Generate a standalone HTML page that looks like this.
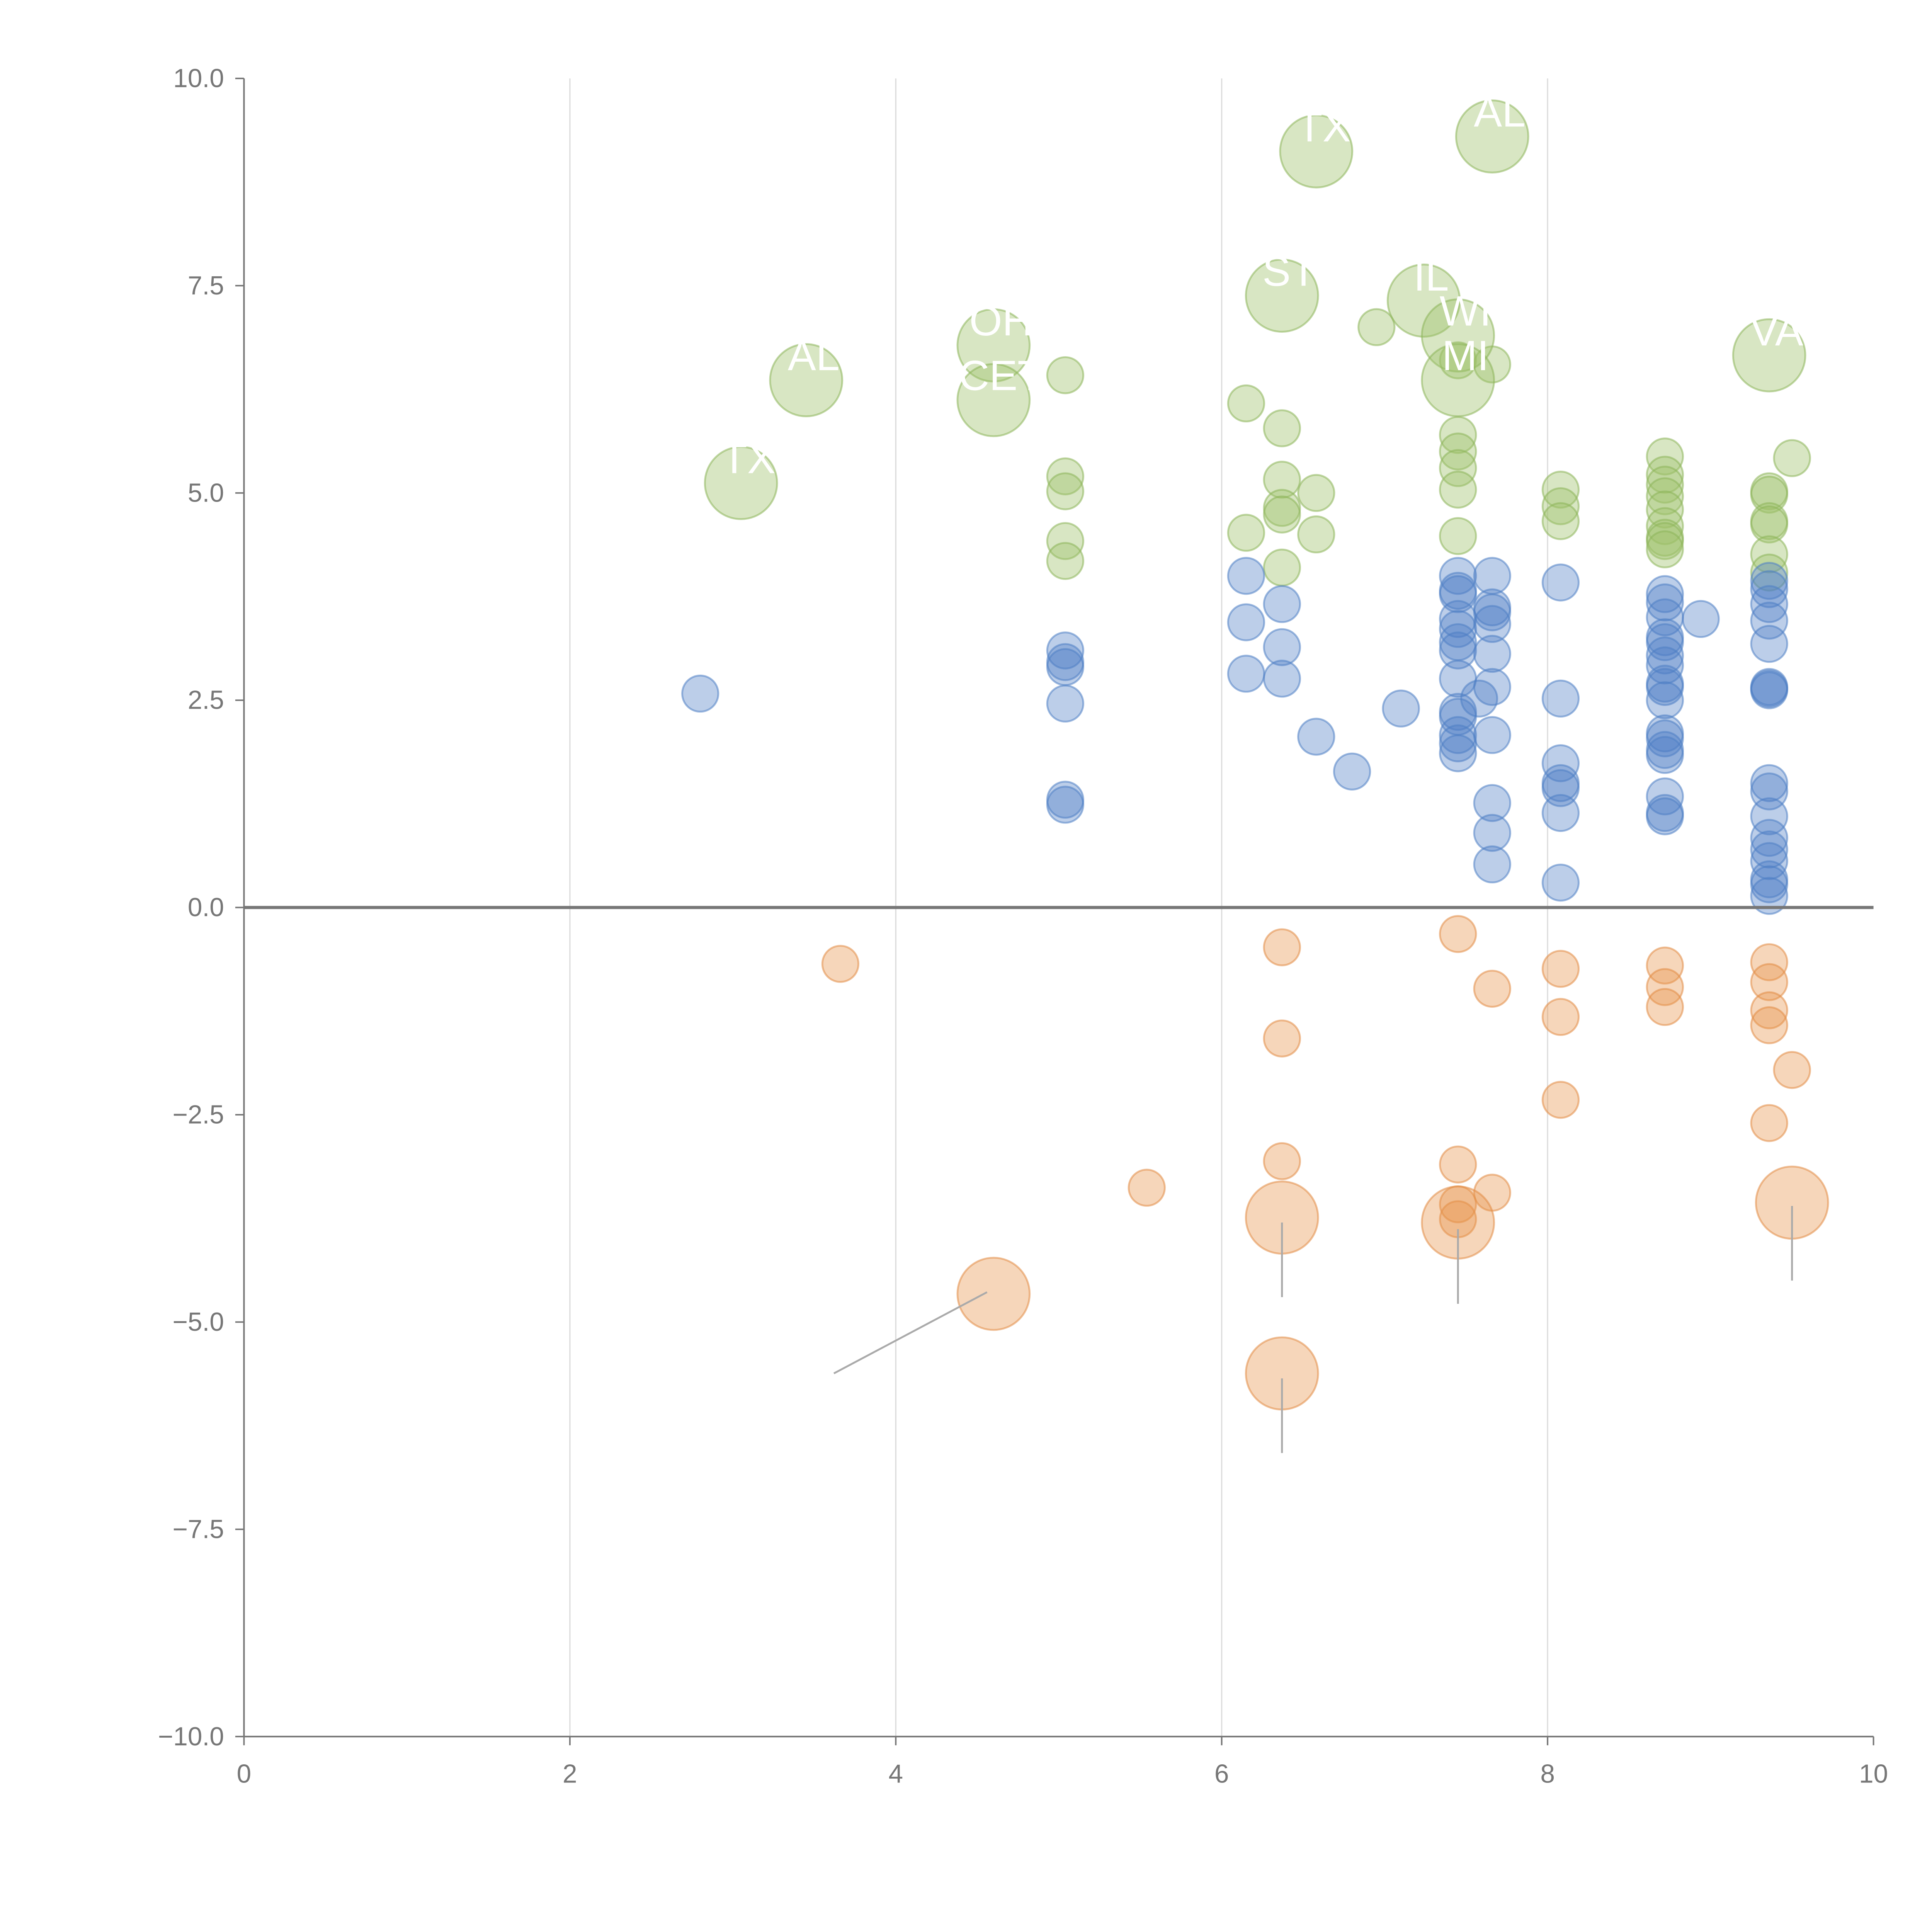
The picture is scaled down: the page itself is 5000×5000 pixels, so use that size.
<!DOCTYPE html>
<html><head><meta charset="utf-8"><style>html,body{margin:0;padding:0;background:#fff}svg{display:block}</style></head>
<body>
<svg id="chart" width="5000" height="5000" viewBox="0 0 1552 1552" xmlns="http://www.w3.org/2000/svg" font-family="Liberation Sans, sans-serif"></svg>
<script>
const xTicks=[0,2,4,6,8,10];
const yTicks=[10,7.5,5,2.5,0,-2.5,-5,-7.5,-10];
const yTickLabels=["10.0","7.5","5.0","2.5","0.0","\u22122.5","\u22125.0","\u22127.5","\u221210.0"];
const greenX=[5.04,5.04,5.04,5.04,5.04,6.15,6.15,6.37,6.37,6.37,6.37,6.37,6.58,6.58,6.95,7.45,7.45,7.45,7.45,7.45,7.45,7.66,8.08,8.08,8.08,8.72,8.72,8.72,8.72,8.72,8.72,8.72,8.72,8.72,9.36,9.36,9.36,9.36,9.36,9.36,9.5];
const greenY=[6.42,5.2,5.02,4.42,4.18,6.08,4.52,5.78,5.16,4.82,4.74,4.1,5.0,4.5,7.0,6.6,5.7,5.5,5.3,5.04,4.48,6.55,5.04,4.84,4.66,5.44,5.22,5.1,4.96,4.8,4.6,4.46,4.42,4.32,5.02,4.98,4.66,4.62,4.26,4.04,5.42];
const greenBigX=[3.05,3.45,4.6,4.6,6.37,6.58,7.24,7.45,7.45,7.66,9.36];
const greenBigY=[5.12,6.36,6.78,6.12,7.38,9.12,7.32,6.9,6.36,9.3,6.66];
const greenBigLabels=["TX","AL","OH","CET","ST","TX","IL","WI","MI","AL","VA"];
const blueX=[2.8,5.04,5.04,5.04,5.04,5.04,5.04,6.15,6.15,6.15,6.37,6.37,6.37,6.58,6.8,7.1,7.45,7.45,7.45,7.45,7.45,7.45,7.45,7.45,7.45,7.45,7.45,7.45,7.45,7.58,7.66,7.66,7.66,7.66,7.66,7.66,7.66,7.66,7.66,7.66,8.08,8.08,8.08,8.08,8.08,8.08,8.08,8.72,8.72,8.72,8.72,8.72,8.72,8.72,8.72,8.72,8.72,8.72,8.72,8.72,8.72,8.72,8.72,8.72,8.94,9.36,9.36,9.36,9.36,9.36,9.36,9.36,9.36,9.36,9.36,9.36,9.36,9.36,9.36,9.36,9.36,9.36];
const blueY=[2.58,3.1,2.96,2.9,2.46,1.3,1.24,4.0,3.44,2.82,3.66,3.14,2.76,2.06,1.64,2.4,4.0,3.82,3.78,3.48,3.36,3.2,3.1,2.76,2.36,2.3,2.08,1.98,1.86,2.52,4.0,3.62,3.56,3.42,3.06,2.66,2.08,1.26,0.9,0.52,3.92,2.52,1.74,1.5,1.44,1.14,0.3,3.78,3.68,3.5,3.26,3.2,3.04,2.92,2.7,2.66,2.5,2.1,2.04,1.9,1.84,1.34,1.14,1.1,3.48,3.94,3.84,3.66,3.46,3.18,2.66,2.64,2.62,1.5,1.4,1.1,0.84,0.7,0.56,0.34,0.28,0.14];
const orangeX=[3.66,5.54,6.37,6.37,6.37,7.45,7.45,7.45,7.45,7.66,7.66,8.08,8.08,8.08,8.72,8.72,8.72,9.36,9.36,9.36,9.36,9.36,9.5];
const orangeY=[-0.68,-3.38,-0.48,-1.58,-3.06,-0.32,-3.1,-3.58,-3.76,-0.98,-3.44,-0.74,-1.32,-2.32,-0.7,-0.96,-1.2,-0.66,-0.9,-1.24,-1.42,-2.6,-1.96];
const orangeBigX=[4.6,6.37,6.37,7.45,9.5];
const orangeBigY=[-4.66,-3.74,-5.62,-3.8,-3.56];
const leaderX1=[4.56,6.37,6.37,7.45,9.5];
const leaderY1=[-4.64,-3.8,-5.68,-3.88,-3.6];
const leaderX2=[3.62,6.37,6.37,7.45,9.5];
const leaderY2=[-5.62,-4.7,-6.58,-4.78,-4.5];

const NS="http://www.w3.org/2000/svg";
const svg=document.getElementById('chart');
const X=v=>196+(v-0)*(1505-196)/10;
const Y=v=>729-v*(1395-63)/20;
function mk(tag,attrs){const e=document.createElementNS(NS,tag);for(const k in attrs)e.setAttribute(k,attrs[k]);svg.appendChild(e);return e;}

xTicks.forEach((t,i)=>{
  if(t>0&&t<10){const g=mk('line',{x1:X(t),x2:X(t),y1:63,y2:1395,stroke:'#dcdcdc','stroke-width':1});
  
  }
  const tk=mk('line',{x1:X(t),x2:X(t),y1:1395,y2:1402,stroke:'#777','stroke-width':1.2});
  
  
  const tx=mk('text',{x:X(t),y:1432,'text-anchor':'middle','font-size':21,fill:'#777'});
  tx.textContent=String(t);
  
  
});
yTicks.forEach((t,i)=>{
  const tk=mk('line',{x1:189,x2:196,y1:Y(t),y2:Y(t),stroke:'#777','stroke-width':1.2});
  
  
  const tx=mk('text',{x:180,y:Y(t)+7,'text-anchor':'end','font-size':21,fill:'#777'});
  tx.textContent=yTickLabels[i];
  
  
});
const ya=mk('line',{x1:196,x2:196,y1:63,y2:1395,stroke:'#777','stroke-width':1.3});


const xa=mk('line',{x1:196,x2:1505,y1:1395,y2:1395,stroke:'#777','stroke-width':1.3});



function dots(xs,ys,r,fill,stroke,name){
  xs.forEach((x,i)=>{
    const c=mk('circle',{cx:X(x),cy:Y(ys[i]),r:r,fill:fill,stroke:stroke,'stroke-width':1.5});
    
    
  });
}
const gF='rgba(157,193,106,0.4)',gS='rgba(140,180,90,0.55)';
const bF='rgba(78,127,196,0.38)',bS='rgba(78,127,196,0.55)';
const oF='rgba(232,146,74,0.38)',oS='rgba(225,140,70,0.55)';
dots(greenX,greenY,14.5,gF,gS,'green-point');
dots(greenBigX,greenBigY,29,gF,gS,'green-large-point');
dots(blueX,blueY,14.5,bF,bS,'blue-point');
dots(orangeX,orangeY,14.5,oF,oS,'orange-point');
dots(orangeBigX,orangeBigY,29,oF,oS,'orange-large-point');

const z=mk('line',{x1:196,x2:1505,y1:Y(0),y2:Y(0),stroke:'#777','stroke-width':2.5});



leaderX1.forEach((x,i)=>{
  const l=mk('line',{x1:X(x),y1:Y(leaderY1[i]),x2:X(leaderX2[i]),y2:Y(leaderY2[i]),stroke:'#aaa','stroke-width':1.5});
  
  
});
greenBigX.forEach((x,i)=>{
  const t=mk('text',{x:X(x)+6,y:Y(greenBigY[i])-8,'text-anchor':'middle','font-size':34,fill:'#fff'});
  t.textContent=greenBigLabels[i];
  
  
});
</script>
</body></html>
